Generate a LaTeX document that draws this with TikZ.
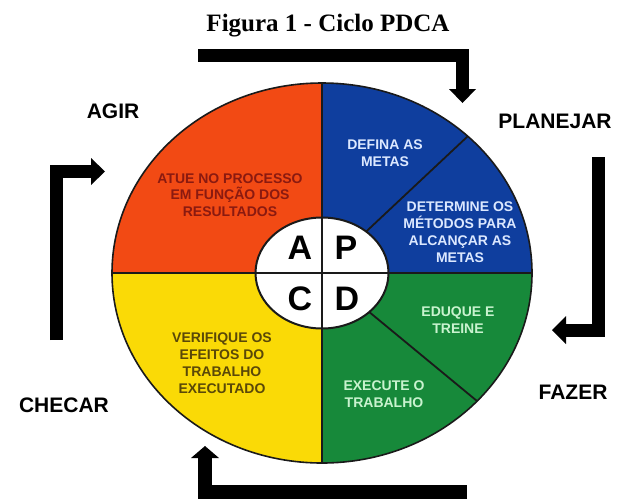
\documentclass[tikz,border=0pt]{standalone}
\usepackage{fontspec}
\setmainfont{Liberation Sans}
\newfontfamily\titlefont{Liberation Serif}
\definecolor{pdcared}{HTML}{F24A14}
\definecolor{pdcablue}{HTML}{0F3E9E}
\definecolor{pdcagreen}{HTML}{17893A}
\definecolor{pdcayellow}{HTML}{FADA06}
\definecolor{txtred}{HTML}{8A1A10}
\definecolor{txtblue}{HTML}{DCE8FF}
\definecolor{txtgreen}{HTML}{C9F3CF}
\definecolor{txtyellow}{HTML}{5A4808}
\definecolor{lineblack}{HTML}{1A1A1A}
\tikzset{
  phaselabel/.style={font=\fontsize{21}{24}\selectfont\bfseries, text=black, inner sep=0pt},
  secttext/.style={font=\fontsize{14}{16.8}\selectfont\bfseries, align=center, inner sep=0pt},
  bigletter/.style={font=\fontsize{34}{36}\selectfont\bfseries, text=black, inner sep=0pt},
  arrowbar/.style={draw=black, line width=13pt, line join=miter, line cap=butt},
  arrowhead/.style={fill=black, draw=none},
  divider/.style={draw=lineblack, line width=1.8pt},
}
\begin{document}
\begin{tikzpicture}[x=1pt,y=-1pt]
\useasboundingbox (0,0) rectangle (623,499);
\fill[white] (0,0) rectangle (623,499);
\clip (0,0) rectangle (623,499);

% title
\node[font=\titlefont\fontsize{25}{28}\selectfont\bfseries, inner sep=0pt] (title) at (328,26) {Figura 1 - Ciclo PDCA};

% centre and ellipse
\coordinate (ctr) at (322,273);
\begin{scope}
  \clip (ctr) ellipse [x radius=210, y radius=190];
  \fill[pdcared]    (100,60) rectangle (322,273);
  \fill[pdcablue]   (322,60) rectangle (560,273);
  \fill[pdcagreen]  (322,273) rectangle (560,480);
  \fill[pdcayellow] (100,273) rectangle (322,480);
\end{scope}
\coordinate (bl) at (468,136);
\coordinate (gl) at (477,401);
\coordinate (et) at (322,83);
\coordinate (eb) at (322,463);
\coordinate (el) at (112,273);
\coordinate (er) at (532,273);
\draw[divider] (et) -- (eb);
\draw[divider] (el) -- (er);
\draw[divider] (ctr) -- (bl);
\draw[divider] (ctr) -- (gl);
\draw[lineblack, line width=1.6pt] (ctr) ellipse [x radius=210, y radius=190];

% inner circle
\fill[white] (ctr) ellipse [x radius=66.5, y radius=55.5];
\draw[divider] (322,217.5) -- (322,328.5);
\draw[divider] (255.5,273) -- (388.5,273);
\draw[lineblack, line width=2pt] (ctr) ellipse [x radius=66.5, y radius=55.5];

\node[bigletter] (la) at (300,248) {A};
\node[bigletter] (lp) at (346,248) {P};
\node[bigletter] (lc) at (300,299) {C};
\node[bigletter] (ld) at (347,299) {D};

% section texts
\node[secttext, text=txtred] (act) at (230,195) {ATUE NO PROCESSO\\EM FUNÇÃO DOS\\RESULTADOS};
\node[secttext, text=txtblue] (def) at (385,153) {DEFINA AS\\METAS};
\node[secttext, text=txtblue] (det) at (460,232) {DETERMINE OS\\MÉTODOS PARA\\ALCANÇAR AS\\METAS};
\node[secttext, text=txtgreen] (edu) at (458,320) {EDUQUE E\\TREINE};
\node[secttext, text=txtgreen] (exe) at (384,394) {EXECUTE O\\TRABALHO};
\node[secttext, text=txtyellow] (ver) at (222,363) {VERIFIQUE OS\\EFEITOS DO\\TRABALHO\\EXECUTADO};

% phase labels
\node[phaselabel] (agir) at (113,111) {AGIR};
\node[phaselabel] (plan) at (555,121) {PLANEJAR};
\node[phaselabel] (fazer) at (573,392) {FAZER};
\node[phaselabel] (checar) at (64,405) {CHECAR};

% top arrow (AGIR -> PLANEJAR)
\coordinate (ta) at (198,55);
\coordinate (tb) at (462.5,55);
\coordinate (tc) at (462.5,90);
\draw[arrowbar] (ta) -- (tb) -- (tc);
\fill[arrowhead] (449,89) -- (476,89) -- (462.5,103) -- cycle;

% right arrow (PLANEJAR -> FAZER)
\coordinate (ra) at (598.5,157);
\coordinate (rb) at (598.5,330);
\coordinate (rc) at (566,330);
\draw[arrowbar] (ra) -- (rb) -- (rc);
\fill[arrowhead] (566,316) -- (566,344) -- (552,330) -- cycle;

% bottom arrow (FAZER -> CHECAR)
\coordinate (ba) at (467,492);
\coordinate (bb) at (205,492);
\coordinate (bc) at (205,457);
\draw[arrowbar, line width=14pt] (ba) -- (bb) -- (bc);
\fill[arrowhead] (191,458) -- (219,458) -- (205,446) -- cycle;

% left arrow (CHECAR -> AGIR)
\coordinate (la1) at (56.5,340);
\coordinate (la2) at (56.5,171.5);
\coordinate (la3) at (91,171.5);
\draw[arrowbar] (la1) -- (la2) -- (la3);
\fill[arrowhead] (91,158) -- (91,185) -- (105,171.5) -- cycle;
\end{tikzpicture}
\end{document}
